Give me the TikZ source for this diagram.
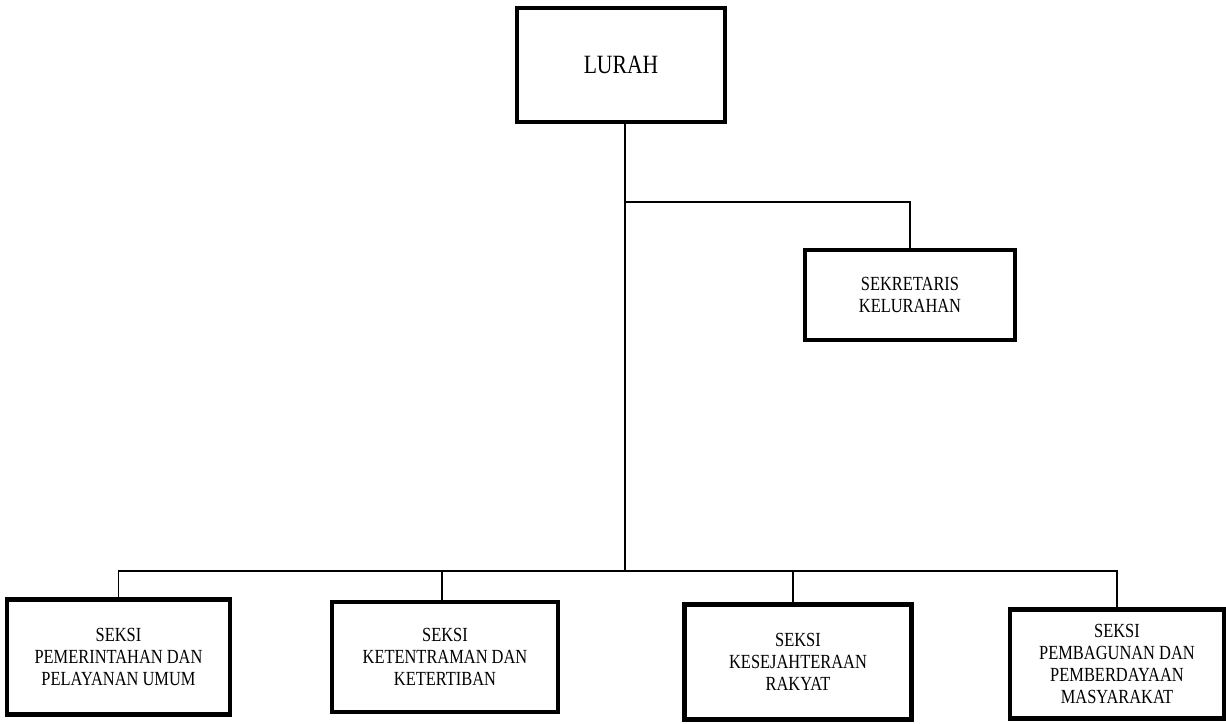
\documentclass[tikz,border=0pt]{standalone}
\usepackage{fontspec}
\newfontfamily\orgfont[FakeStretch=0.82]{Liberation Serif}
\tikzset{
  unitbox/.style={draw, line width=2.4pt, align=center, inner sep=2pt,
    font=\orgfont\fontsize{11.4}{12.4}\selectfont},
  link/.style={line width=1.1pt}
}
\begin{document}
\begin{tikzpicture}[x=0.02cm,y=-0.02cm]
				\useasboundingbox (0,0) rectangle (1226,723);
				
				\node [unitbox, minimum width=4.16cm, minimum height=2.28cm,
				  font=\orgfont\fontsize{15}{18}\selectfont] (lurah) at (621,65) {LURAH};
				\node [unitbox, minimum width=4.2cm, minimum height=1.8cm] (sekretaris) at (910,295) {SEKRETARIS\\KELURAHAN};
				
				\node [unitbox, minimum width=4.46cm, minimum height=2.3cm] (pemerintahan) at (118.5,657) {SEKSI\\PEMERINTAHAN DAN\\PELAYANAN UMUM};
				\node [unitbox, minimum width=4.52cm, minimum height=2.2cm] (ketentraman) at (445,657) {SEKSI\\KETENTRAMAN DAN\\KETERTIBAN};
				\node [unitbox, minimum width=4.54cm, minimum height=2.3cm] (kesejahteraan) at (798,662) {SEKSI\\KESEJAHTERAAN\\RAKYAT};
				\node [unitbox, minimum width=4.28cm, minimum height=2.18cm] (pembangunan) at (1117,664) {SEKSI\\PEMBAGUNAN DAN\\PEMBERDAYAAN\\MASYARAKAT};
				
				\coordinate (fork) at (625,202);
				\coordinate (bus) at (625,571);
				
				\draw [link] (lurah.south -| fork) -- (bus);
				\draw [link] (fork) -| (sekretaris);
				\draw [link] (bus) -| (pemerintahan);
				\draw [link] (bus) -| ([xshift=-3*0.02cm]ketentraman.north);
				\draw [link] (bus) -| ([xshift=-5*0.02cm]kesejahteraan.north);
				\draw [link] (bus) -| (pembangunan);
\end{tikzpicture}
\end{document}
